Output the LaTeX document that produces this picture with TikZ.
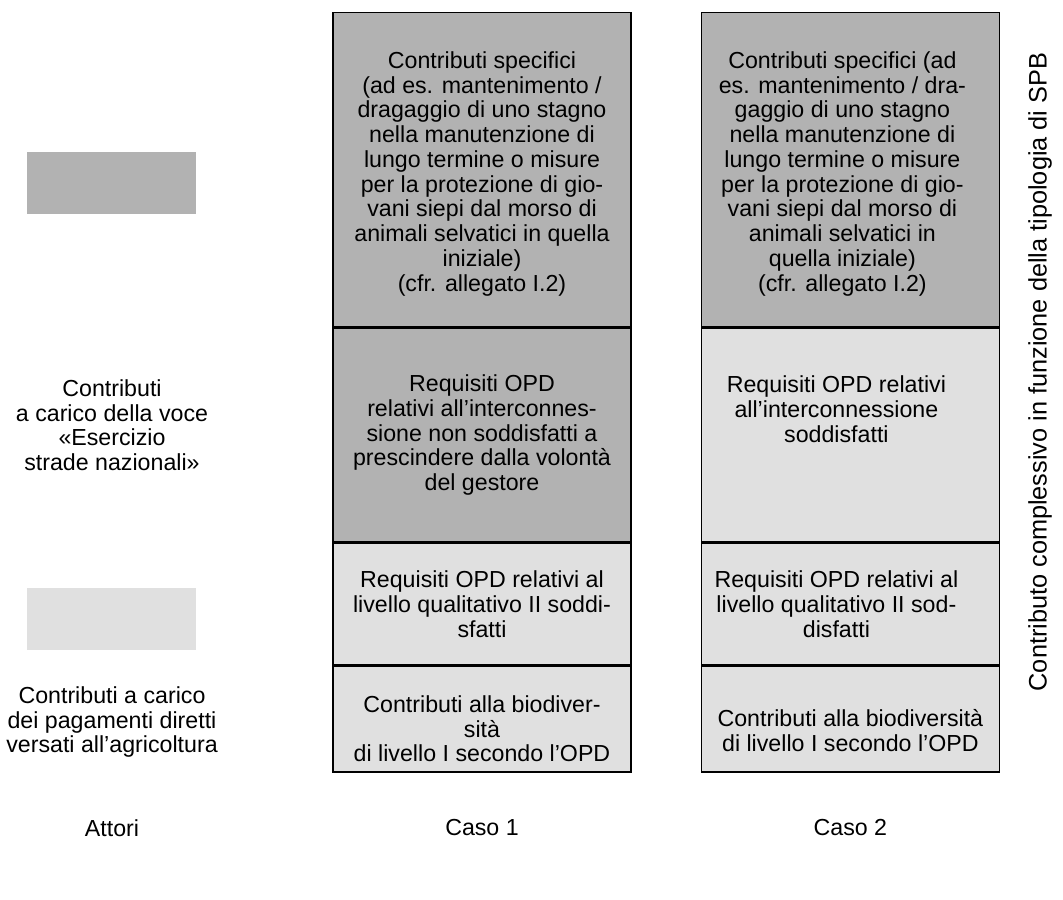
\documentclass[tikz,border=0pt]{standalone}
\usepackage{fontspec}
\setmainfont{Liberation Sans}
\usetikzlibrary{positioning}
\definecolor{cellDark}{gray}{0.70}
\definecolor{cellLight}{gray}{0.88}
\tikzset{
  cell/.style={draw, rectangle, line width=1pt, minimum width=7.45cm, inner sep=0pt, anchor=north},
  celltext/.style={align=center, font=\fontsize{16.5}{17.6}\selectfont},
  legendbox/.style={rectangle, minimum width=4.225cm, minimum height=1.55cm, inner sep=0pt}
}
\begin{document}
\begin{tikzpicture}
    \useasboundingbox (0,0) rectangle (26.575,-22.475);
    % Caso 1
    \node[cell, fill=cellDark, minimum height=7.85cm] (c1a) at (12.05,-0.3) {};
    \node[cell, fill=cellDark, minimum height=5.35cm] (c1b) at (c1a.south) {};
    \node[cell, fill=cellLight, minimum height=3.025cm] (c1c) at (c1b.south) {};
    \node[cell, fill=cellLight, minimum height=2.65cm] (c1d) at (c1c.south) {};
    % Caso 2
    \node[cell, fill=cellDark, minimum height=7.85cm] (c2a) at (21.26,-0.3) {};
    \node[cell, fill=cellLight, minimum height=5.35cm] (c2b) at (c2a.south) {};
    \node[cell, fill=cellLight, minimum height=3.025cm] (c2c) at (c2b.south) {};
    \node[cell, fill=cellLight, minimum height=2.65cm] (c2d) at (c2c.south) {};
    % texts, Caso 1
    \node[celltext] (t1a) at ([yshift=-0.1cm]c1a.center) {Contributi specifici\\ (ad es. mantenimento /\\dragaggio di uno stagno\\nella manutenzione di\\lungo termine o misure\\per la protezione di gio-\\vani siepi dal morso di\\animali selvatici in quella\\iniziale)\\(cfr. allegato I.2)};
    \node[celltext] (t1b) at (c1b.center) {Requisiti OPD\\relativi all’interconnes-\\sione non soddisfatti a\\prescindere dalla volontà\\del gestore};
    \node[celltext] (t1c) at (c1c.center) {Requisiti OPD relativi al\\livello qualitativo II soddi-\\sfatti};
    \node[celltext] (t1d) at ([yshift=-0.25cm]c1d.center) {Contributi alla biodiver-\\sità\\di livello I secondo l’OPD};
    % texts, Caso 2
    \node[celltext] (t2a) at ([xshift=-0.2cm,yshift=-0.1cm]c2a.center) {Contributi specifici (ad\\es. mantenimento / dra-\\gaggio di uno stagno\\nella manutenzione di\\lungo termine o misure\\per la protezione di gio-\\vani siepi dal morso di\\animali selvatici in\\quella iniziale)\\(cfr. allegato I.2)};
    \node[celltext] (t2b) at ([xshift=-0.35cm,yshift=0.65cm]c2b.center) {Requisiti OPD relativi\\all’interconnessione\\soddisfatti};
    \node[celltext] (t2c) at ([xshift=-0.35cm]c2c.center) {Requisiti OPD relativi al\\livello qualitativo II sod-\\disfatti};
    \node[celltext] (t2d) at ([yshift=-0.3cm]c2d.center) {Contributi alla biodiversità\\di livello I secondo l’OPD};
    % legend
    \node[legendbox, fill=cellDark] (ldark) at (2.79,-4.575) {};
    \node[celltext] (tdark) at (2.8,-10.63) {Contributi\\a carico della voce\\«Esercizio\\strade nazionali»};
    \node[legendbox, fill=cellLight] (llight) at (2.79,-15.475) {};
    \node[celltext] (tlight) at (2.8,-18.05) {Contributi a carico\\dei pagamenti diretti\\versati all’agricoltura};
    % bottom labels
    \node[celltext] (attori) at (2.8,-20.7) {Attori};
    \node[celltext] (caso1) at (c1a.center |- attori) {Caso 1};
    \node[celltext] (caso2) at (c2a.center |- attori) {Caso 2};
    \node[celltext, font=\fontsize{18}{20}\selectfont, rotate=90] (totale) at (26.0,-9.3) {Contributo complessivo in funzione della tipologia di SPB};
\end{tikzpicture}
\end{document}
